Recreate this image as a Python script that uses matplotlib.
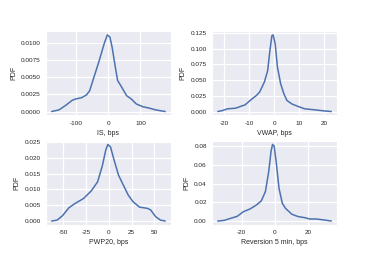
import matplotlib
matplotlib.use("Agg")
import matplotlib.pyplot as plt
import seaborn as sns

sns.set_style("darkgrid")
plt.rcParams["font.family"] = ["Liberation Sans", "DejaVu Sans"]

# KDE curves (x in bps, y = density)
is_x = [-176, -153, -133, -113, -103, -83, -68, -58, -43, -28, -13, -3, 5, 12,
        22, 29, 42, 57, 72, 87, 107, 127, 147, 177]
is_y = [0, 0.00024, 0.00087, 0.0016, 0.0018, 0.0020, 0.0024, 0.0030, 0.0052,
        0.0074, 0.0098, 0.0111, 0.0108, 0.0093, 0.0064, 0.0045, 0.0035, 0.0023,
        0.0018, 0.0011, 0.0007, 0.0005, 0.00024, 0]

vwap_x = [-22.5, -20.6, -18.6, -15.4, -13.5, -11.6, -9.6, -7.1, -5.8, -3.9, -2.6,
          -1.7, -0.9, -0.4, 0.4, 1.3, 2.6, 3.9, 5.1, 7.1, 9.6, 12.2, 16.1, 19.9, 22.8]
vwap_y = [0, 0.0016, 0.0043, 0.0053, 0.008, 0.0106, 0.0176, 0.0255, 0.031, 0.047,
          0.065, 0.097, 0.121, 0.122, 0.108, 0.071, 0.044, 0.028, 0.0176, 0.012,
          0.008, 0.0043, 0.0027, 0.001, 0]

pwp_x = [-63, -57, -51, -44, -37, -28, -19.5, -12.4, -7.1, -3.5, -1.1, 1.8, 5.3,
         10.6, 16, 21.3, 26.6, 33.7, 42.6, 46, 51.4, 56.7, 62]
pwp_y = [0, 0.0003, 0.0017, 0.0042, 0.0056, 0.0071, 0.0095, 0.0124, 0.0176,
         0.0224, 0.0242, 0.0234, 0.0197, 0.0145, 0.0113, 0.0082, 0.0061, 0.0044,
         0.0040, 0.0035, 0.0014, 0.0003, 0]

rev_x = [-34.5, -30.6, -26.7, -22.8, -19.0, -15.0, -11.1, -8.2, -5.7, -3.7, -2.3,
         -1.4, -0.4, 1.0, 2.5, 4.5, 6.4, 10.3, 14.2, 18.1, 21.1, 25, 29.9, 34.1]
rev_y = [0, 0.0007, 0.0029, 0.005, 0.010, 0.0129, 0.0172, 0.0215, 0.0316, 0.053,
         0.0746, 0.0818, 0.080, 0.060, 0.035, 0.019, 0.0136, 0.0072, 0.0047,
         0.0036, 0.0022, 0.0022, 0.0011, 0]

panels = [
    (is_x, is_y, "IS, bps", [-100, 0, 100], [0, 0.0025, 0.005, 0.0075, 0.01], "{:.4f}"),
    (vwap_x, vwap_y, "VWAP, bps", [-20, -10, 0, 10, 20], [0, 0.025, 0.05, 0.075, 0.1, 0.125], "{:.3f}"),
    (pwp_x, pwp_y, "PWP20, bps", [-50, -25, 0, 25, 50], [0, 0.005, 0.01, 0.015, 0.02, 0.025], "{:.3f}"),
    (rev_x, rev_y, "Reversion 5 min, bps", [-20, 0, 20], [0, 0.02, 0.04, 0.06, 0.08], "{:.2f}"),
]

fig, axes = plt.subplots(2, 2, figsize=(3.74, 2.57), dpi=100)
fig.subplots_adjust(left=0.123, right=0.901, top=0.879, bottom=0.125,
                    wspace=0.33, hspace=0.3)

for ax, (x, y, label, xt, yt, fmt) in zip(axes.flat, panels):
    ax.plot(x, y, color="#4C72B0", lw=1.1)
    ax.set_xticks(xt)
    ax.set_yticks(yt)
    ax.set_yticklabels([fmt.format(v) for v in yt])
    ax.set_xticklabels([str(v) for v in xt])
    ax.tick_params(labelsize=4.6, colors="#262626", pad=3.8, length=0)
    ax.set_xlabel(label, fontsize=5.0, color="#262626", labelpad=2.8)
    ax.set_ylabel("PDF", fontsize=5.0, color="#262626", labelpad=2.7)
    ax.grid(color="white", lw=0.9)

fig.savefig("out.png", dpi=100)
